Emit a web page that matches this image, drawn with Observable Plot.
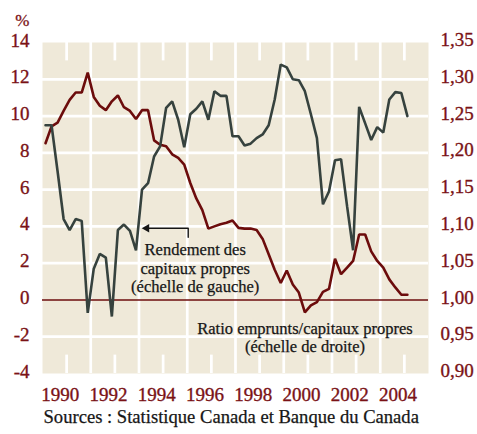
<!DOCTYPE html>
<html><head><meta charset="utf-8">
<script src="https://cdn.jsdelivr.net/npm/d3@7"></script>
<script src="https://cdn.jsdelivr.net/npm/@observablehq/plot@0.6"></script>
<style>
body{margin:0;background:#fff;}
#chart{width:477px;height:434px;}
#chart svg, #chart svg text{font-family:"Liberation Serif", serif !important;}
</style>
</head><body><div id="chart"></div>
<script>
// Quarterly data, 1989 T1 to 2004 T1
const startYear = 1989;
// Rendement des capitaux propres (%), échelle de gauche
const roe = [9.5, 9.5, 7.0, 4.4, 3.8, 4.4, 4.3, -0.7, 1.7, 2.5, 2.3, -0.9, 3.8, 4.1, 3.75, 2.7,
  6.0, 6.35, 7.8, 8.35, 10.45, 10.8, 9.8, 8.3, 10.1, 10.4, 10.8, 9.8, 11.35, 11.1, 11.1, 8.9,
  8.9, 8.4, 8.5, 8.8, 9.0, 9.5, 10.9, 12.8, 12.65, 12.0, 11.95, 11.35, 10.1, 8.8, 5.2, 5.9,
  7.6, 7.65, 5.1, 2.7, 10.5, 9.6, 8.7, 9.4, 9.1, 10.9, 11.3, 11.25, 10.0];
// Ratio emprunts/capitaux propres, échelle de droite
const ratio = [1.213, 1.236, 1.241, 1.257, 1.272, 1.282, 1.282, 1.309, 1.276, 1.264, 1.258, 1.270,
  1.278, 1.262, 1.257, 1.246, 1.258, 1.258, 1.217, 1.211, 1.209, 1.198, 1.193, 1.184, 1.159,
  1.138, 1.122, 1.097, 1.100, 1.103, 1.105, 1.108, 1.098, 1.097, 1.097, 1.095, 1.083, 1.062,
  1.041, 1.023, 1.040, 1.021, 1.010, 0.983, 0.9925, 0.997, 1.011, 1.015, 1.056, 1.035, 1.044,
  1.053, 1.089, 1.089, 1.066, 1.053, 1.044, 1.028, 1.017, 1.007, 1.007];

const leftTicks = [-4, -2, 0, 2, 4, 6, 8, 10, 12, 14];
const leftLabels = ["-4", "-2", "0", "2", "4", "6", "8", "10", "12", "14"];
const rightTicks = [0.90, 0.95, 1.00, 1.05, 1.10, 1.15, 1.20, 1.25, 1.30, 1.35];
const rightLabels = ["0,90", "0,95", "1,00", "1,05", "1,10", "1,15", "1,20", "1,25", "1,30", "1,35"];
const yearLabels = [1990, 1992, 1994, 1996, 1998, 2000, 2002, 2004];
const gridYears = [1991, 1993, 1995, 1997, 1999, 2001, 2003];
const hGrid = [-2, 2, 4, 6, 8, 10, 12];

const roeLabel = ["Rendement des", "capitaux propres", "(échelle de gauche)"];
const ratioLabel = ["Ratio emprunts/capitaux propres", "(échelle de droite)"];
const unitLabel = "%";
const sourceLabel = "Sources : Statistique Canada et Banque du Canada";

// right scale value -> left scale units (1,00 ↔ 0 ; 0,05 ↔ 2)
const toLeft = r => (r - 1) * 40;
const quarterX = i => startYear + (i + 0.5) / 4;

const beige = "#efe9d9";
const maroon = "#6c0c0c";
const axisRed = "#7a1216";
const slate = "#36423e";
const ink = "#161616";
const serif = "Liberation Serif";

const chart = Plot.plot({
  width: 477,
  height: 434,
  marginLeft: 42,
  marginRight: 49,
  marginTop: 42,
  marginBottom: 61,
  x: {domain: [1989, 2005], axis: null},
  y: {domain: [-4, 14], axis: null},
  style: {fontFamily: serif, background: "white", overflow: "visible"},
  marks: [
    Plot.frame({fill: beige, stroke: null}),
    Plot.ruleY(hGrid, {stroke: "white", strokeWidth: 2.7}),
    Plot.ruleX(gridYears, {stroke: "white", strokeWidth: 2.7}),
    Plot.ruleX(yearLabels, {y1: 14, y2: 13, stroke: "white", strokeWidth: 2.7}),
    Plot.ruleX(yearLabels, {y1: -4, y2: -3, stroke: "white", strokeWidth: 2.7}),
    Plot.ruleY([0], {stroke: maroon, strokeWidth: 1.6}),
    Plot.line(ratio, {x: (d, i) => quarterX(i), y: d => toLeft(d), stroke: maroon, strokeWidth: 2.6, strokeLinejoin: "miter"}),
    Plot.line(roe, {x: (d, i) => quarterX(i), y: d => d, stroke: slate, strokeWidth: 2.6, strokeLinejoin: "miter"}),
    // annotation arrow
    Plot.line([[1993.25, 3.9], [1995.04, 3.9], [1995.04, 3.41]], {x: d => d[0], y: d => d[1], stroke: ink, strokeWidth: 1.4}),
    Plot.dot([[1993.32, 3.9]], {x: d => d[0], y: d => d[1], symbol: "triangle", rotate: -90, r: 3.2, fill: ink, stroke: null}),
    Plot.text(roeLabel, {x: 1995.33, y: (d, i) => [2.705, 1.71, 0.74][i], text: d => d, fontFamily: serif, fontSize: 16.5, fill: ink, stroke: ink, strokeWidth: 0.25}),
    Plot.text(ratioLabel, {x: 1999.88, y: (d, i) => [-1.553, -2.553][i], text: d => d, fontFamily: serif, fontSize: 16.5, fill: ink, stroke: ink, strokeWidth: 0.25}),
    // axes
    Plot.text(leftTicks, {x: 1989, y: d => d, text: (d, i) => leftLabels[i], textAnchor: "end", dx: -13, dy: -2, fontFamily: serif, fontSize: 19, fill: axisRed, stroke: axisRed, strokeWidth: 0.35}),
    Plot.text(rightTicks, {x: 2005, y: d => toLeft(d), text: (d, i) => rightLabels[i], textAnchor: "start", dx: 12, dy: -2.5, fontFamily: serif, fontSize: 19, fill: axisRed, stroke: axisRed, strokeWidth: 0.35}),
    Plot.text(yearLabels, {x: d => d, y: -4, text: d => String(d), dx: -6.5, dy: 21, fontFamily: serif, fontSize: 19, fill: axisRed, stroke: axisRed, strokeWidth: 0.35}),
    Plot.text([unitLabel], {frameAnchor: "top-left", text: d => d, textAnchor: "end", dx: -13, dy: -29, fontFamily: serif, fontSize: 17, fill: axisRed, stroke: axisRed, strokeWidth: 0.3}),
    Plot.text([sourceLabel], {frameAnchor: "bottom-left", text: d => d, textAnchor: "start", dx: 1, dy: 49, fontFamily: serif, fontSize: 18.6, fill: ink, stroke: ink, strokeWidth: 0.25})
  ]
});
document.getElementById("chart").appendChild(chart);
</script>
</body></html>
